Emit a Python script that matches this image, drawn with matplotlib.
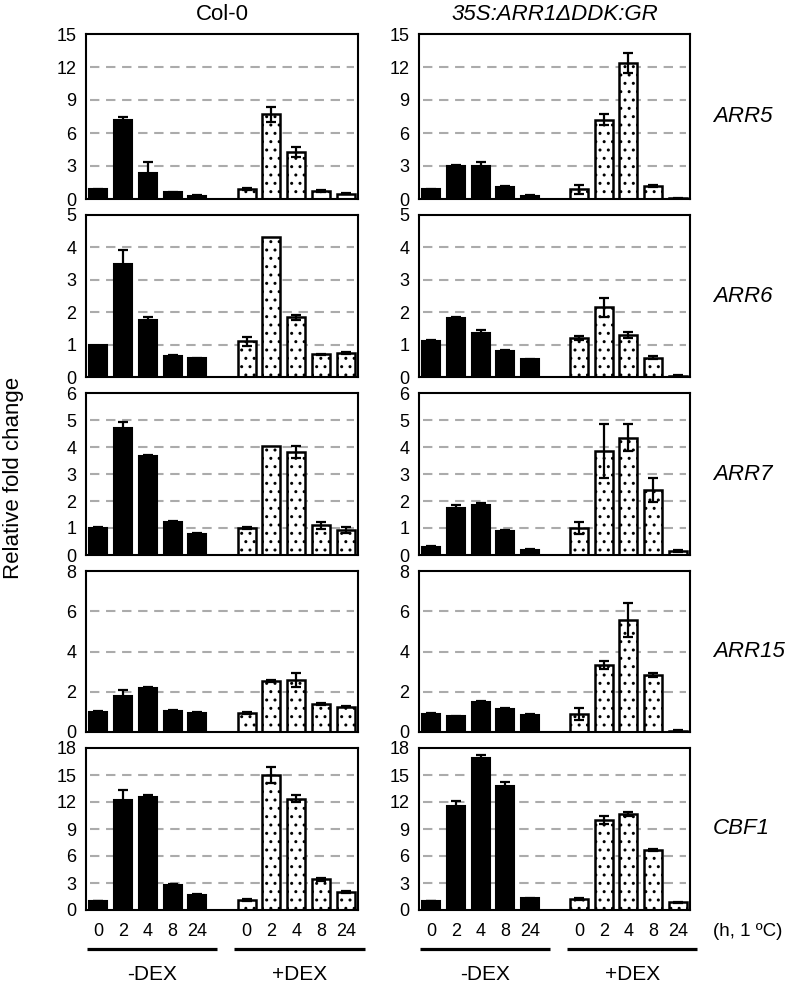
import matplotlib
matplotlib.use("Agg")
import matplotlib.pyplot as plt
from matplotlib.transforms import blended_transform_factory
import numpy as np

plt.rcParams['font.family'] = ['Liberation Sans', 'DejaVu Sans']
plt.rcParams['hatch.linewidth'] = 1.0

genes = ["ARR5", "ARR6", "ARR7", "ARR15", "CBF1"]
genotypes = ["Col-0", "35S:ARR1ΔDDK:GR"]
time_labels = ["0", "2", "4", "8", "24"]
treatments = ["-DEX", "+DEX"]
ymax = [15, 5, 6, 8, 18]
ystep = [3, 1, 1, 2, 3]

# values: first 5 = -DEX (0,2,4,8,24 h), last 5 = +DEX
col0_vals = {
    "ARR5":  [0.9, 7.2, 2.35, 0.6, 0.3, 0.9, 7.7, 4.3, 0.7, 0.5],
    "ARR6":  [1.0, 3.5, 1.75, 0.65, 0.58, 1.1, 4.33, 1.84, 0.7, 0.74],
    "ARR7":  [1.0, 4.71, 3.67, 1.22, 0.77, 1.0, 4.05, 3.83, 1.1, 0.93],
    "ARR15": [1.0, 1.77, 2.2, 1.05, 0.95, 0.92, 2.55, 2.6, 1.38, 1.25],
    "CBF1":  [1.0, 12.2, 12.55, 2.8, 1.7, 1.1, 15.0, 12.35, 3.4, 2.0],
}
col0_errs = {
    "ARR5":  [0.05, 0.3, 1.0, 0.05, 0.05, 0.1, 0.7, 0.45, 0.1, 0.05],
    "ARR6":  [0.0, 0.42, 0.1, 0.03, 0.02, 0.13, 0.0, 0.08, 0.02, 0.03],
    "ARR7":  [0.05, 0.2, 0.04, 0.03, 0.06, 0.02, 0.0, 0.22, 0.13, 0.12],
    "ARR15": [0.03, 0.3, 0.05, 0.05, 0.05, 0.05, 0.05, 0.35, 0.05, 0.03],
    "CBF1":  [0.05, 1.1, 0.25, 0.1, 0.1, 0.1, 0.85, 0.4, 0.15, 0.1],
}
gr_vals = {
    "ARR5":  [0.9, 3.0, 3.0, 1.1, 0.3, 0.9, 7.2, 12.4, 1.15, 0.05],
    "ARR6":  [1.1, 1.82, 1.36, 0.8, 0.55, 1.2, 2.15, 1.3, 0.6, 0.03],
    "ARR7":  [0.3, 1.73, 1.87, 0.9, 0.2, 1.0, 3.85, 4.35, 2.41, 0.15],
    "ARR15": [0.9, 0.78, 1.47, 1.15, 0.82, 0.9, 3.34, 5.57, 2.85, 0.05],
    "CBF1":  [1.0, 11.6, 16.9, 13.8, 1.3, 1.2, 10.0, 10.65, 6.7, 0.85],
}
gr_errs = {
    "ARR5":  [0.05, 0.05, 0.4, 0.05, 0.03, 0.4, 0.5, 0.9, 0.1, 0.03],
    "ARR6":  [0.05, 0.02, 0.1, 0.03, 0.02, 0.05, 0.3, 0.09, 0.05, 0.02],
    "ARR7":  [0.03, 0.12, 0.05, 0.03, 0.03, 0.22, 1.0, 0.5, 0.45, 0.05],
    "ARR15": [0.05, 0.03, 0.08, 0.05, 0.05, 0.3, 0.2, 0.85, 0.1, 0.03],
    "CBF1":  [0.05, 0.5, 0.3, 0.45, 0.05, 0.1, 0.45, 0.2, 0.1, 0.05],
}

W, H = 797, 986
fig = plt.figure(figsize=(W / 100, H / 100), dpi=100)

col_x = [(86, 358), (419, 690)]
row_y = [(34, 199), (215, 377), (393, 555), (571, 732), (748, 910)]
positions = [0, 1, 2, 3, 4, 6, 7, 8, 9, 10]

for r, gene in enumerate(genes):
    for c in range(2):
        x0, x1 = col_x[c]
        y0, y1 = row_y[r]
        ax = fig.add_axes([x0 / W, 1 - y1 / H, (x1 - x0) / W, (y1 - y0) / H])
        vals = col0_vals[gene] if c == 0 else gr_vals[gene]
        errs = col0_errs[gene] if c == 0 else gr_errs[gene]
        ticks = np.arange(0, ymax[r] + 0.01, ystep[r])
        for t in ticks[1:-1]:
            ax.axhline(t, xmin=0.015, xmax=0.985, color='#ababab', lw=1.5,
                       linestyle=(0, (4.5, 3.2)), zorder=0)
        for i, (p, v, e) in enumerate(zip(positions, vals, errs)):
            if i < 5:
                ax.bar(p, v, width=0.73, color='black', edgecolor='black',
                       linewidth=1.5, zorder=2)
            else:
                ax.bar(p, v, width=0.73, color='white', edgecolor='black',
                       linewidth=1.8, hatch='..', zorder=2)
            if e > 0:
                ax.errorbar(p, v, yerr=e, fmt='none', ecolor='black',
                            elinewidth=1.6, capsize=3.8, capthick=1.6, zorder=3)
        ax.set_xlim(-0.5, 10.5)
        ax.set_ylim(0, ymax[r])
        ax.set_yticks(ticks)
        ax.set_yticklabels([str(int(t)) for t in ticks])
        ax.tick_params(axis='y', length=0, pad=7, labelsize=13)
        for s in ax.spines.values():
            s.set_linewidth(1.5)
            s.set_color('black')
        if r == len(genes) - 1:
            ax.set_xticks(positions)
            ax.set_xticklabels(time_labels * 2)
            ax.tick_params(axis='x', length=0, pad=9, labelsize=13)
            tr = blended_transform_factory(ax.transData, fig.transFigure)
            for (a, b), lab in zip([(-0.45, 4.8), (5.5, 10.8)], treatments):
                ax.plot([a, b], [1 - 949 / H, 1 - 949 / H], color='black',
                        lw=2.3, transform=tr, clip_on=False, solid_capstyle='butt')
                ax.text((a + b) / 2, 1 - 974 / H, lab, transform=tr,
                        ha='center', va='center', fontsize=15)
        else:
            ax.set_xticks([])

# column titles
fig.text((col_x[0][0] + col_x[0][1]) / 2 / W, 1 - 14 / H, genotypes[0],
         ha='center', va='center', fontsize=16)
fig.text((col_x[1][0] + col_x[1][1]) / 2 / W, 1 - 14 / H, genotypes[1],
         ha='center', va='center', fontsize=16, style='italic')

# gene labels
for r, gene in enumerate(genes):
    yc = (row_y[r][0] + row_y[r][1]) / 2
    fig.text(713 / W, 1 - yc / H, gene, ha='left', va='center',
             fontsize=16, style='italic')

fig.text(713 / W, 1 - 931 / H, "(h, 1 ºC)", ha='left', va='center', fontsize=13.5)
fig.text(14 / W, 1 - 478 / H, "Relative fold change", ha='center', va='center',
         rotation=90, fontsize=16)

fig.savefig("out.png", dpi=100)
